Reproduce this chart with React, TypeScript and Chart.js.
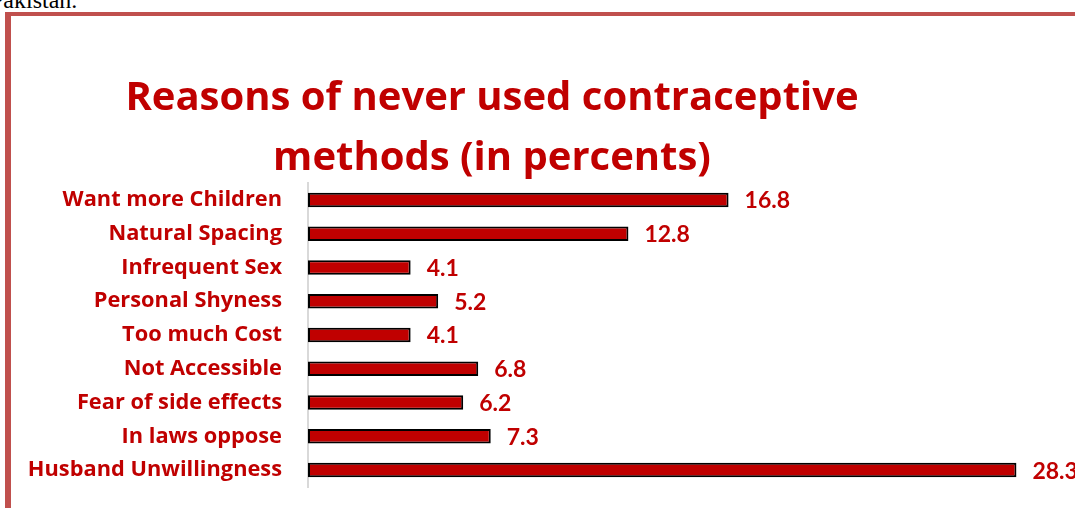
import React, { useEffect, useRef } from "react";
import { Chart, registerables } from "chart.js";

Chart.register(...registerables);

const categories = [
  "Want more Children",
  "Natural Spacing",
  "Infrequent Sex",
  "Personal Shyness",
  "Too much Cost",
  "Not Accessible",
  "Fear of side effects",
  "In laws oppose",
  "Husband Unwillingness",
];
const values = [16.8, 12.8, 4.1, 5.2, 4.1, 6.8, 6.2, 7.3, 28.3];
const titleLines = ["Reasons of never used contraceptive", "methods (in percents)"];

const RED = "#c00000";
const FONT = "'Open Sans'";

const valueLabels = {
  id: "valueLabels",
  afterDatasetsDraw(chart: any) {
    const ctx = chart.ctx;
    const meta = chart.getDatasetMeta(0);
    ctx.save();
    ctx.fillStyle = RED;
    ctx.font = `bold 23px Lato`;
    ctx.textAlign = "left";
    ctx.textBaseline = "middle";
    meta.data.forEach((bar: any, i: number) => {
      ctx.fillText(values[i].toFixed(1), bar.x + 16, bar.y + 1);
    });
    ctx.restore();
  },
};

export default function App() {
  const ref = useRef<HTMLCanvasElement | null>(null);
  useEffect(() => {
    if (!ref.current) return;
    const chart = new Chart(ref.current, {
      type: "bar",
      data: {
        labels: categories,
        datasets: [
          {
            data: values,
            backgroundColor: RED,
            borderColor: "#000000",
            borderWidth: 2,
            borderSkipped: false,
            barPercentage: 0.43,
            categoryPercentage: 1,
          },
        ],
      },
      options: {
        responsive: false,
        animation: false,
        indexAxis: "y",
        layout: { padding: { left: 0, right: 16, top: 0, bottom: 21 } },
        plugins: {
          legend: { display: false },
          tooltip: { enabled: false },
          title: {
            display: true,
            text: titleLines,
            color: RED,
            font: { family: FONT, size: 40, weight: "bold", lineHeight: 1.5 },
            padding: { top: 69, bottom: -6 },
          },
        },
        scales: {
          x: { display: false, min: 0, max: 30 },
          y: {
            grid: { display: false, drawTicks: true, tickLength: 26 },
            border: { display: true, color: "#d9d9d9", width: 2 },
            ticks: {
              color: RED,
              font: { family: FONT, size: 21.8, weight: "bold" },
              padding: 0,
            },
            afterFit: (s: any) => {
              s.width = 383;
            },
          },
        },
      },
      plugins: [valueLabels],
    });
    return () => chart.destroy();
  }, []);

  return (
    <div
      style={{
        position: "fixed",
        left: 0,
        top: 0,
        width: 1075,
        height: 508,
        overflow: "hidden",
        background: "#ffffff",
      }}
    >
      <span
        style={{
          position: "absolute",
          left: -10,
          top: -13,
          fontFamily: "'Liberation Serif', 'Times New Roman', serif",
          fontSize: 24,
          lineHeight: "normal",
          color: "#000",
          whiteSpace: "nowrap",
        }}
      >
        Pakistan.
      </span>
      <div
        style={{
          position: "absolute",
          left: 5,
          top: 12,
          width: 1100,
          height: 4,
          background: "#c0504d",
        }}
      />
      <div
        style={{
          position: "absolute",
          left: 5,
          top: 12,
          width: 6,
          height: 520,
          background: "#c0504d",
        }}
      />
      <canvas
        ref={ref}
        width={1150}
        height={508}
        style={{ position: "absolute", left: -75, top: 0 }}
      />
    </div>
  );
}
